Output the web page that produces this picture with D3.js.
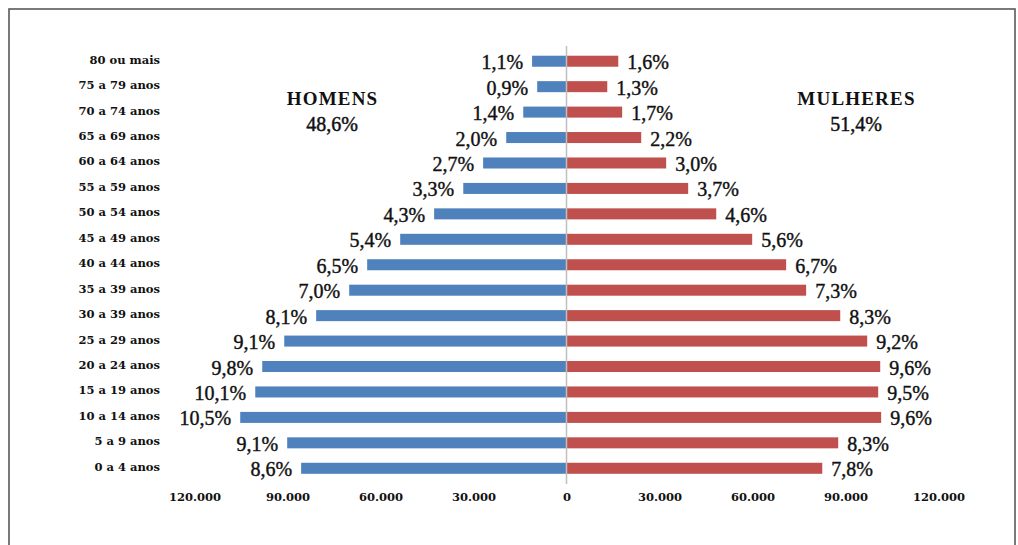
<!DOCTYPE html>
<html>
<head>
<meta charset="utf-8">
<script src="https://cdn.jsdelivr.net/npm/d3@7"></script>
<style>
  html, body { margin: 0; padding: 0; background: #fff; }
  svg { display: block; }
</style>
</head>
<body>
<svg id="chart" width="1018" height="545"></svg>
<script>
// ---- data ----
const categories = ["80 ou mais","75 a 79 anos","70 a 74 anos","65 a 69 anos","60 a 64 anos","55 a 59 anos","50 a 54 anos","45 a 49 anos","40 a 44 anos","35 a 39 anos","30 a 39 anos","25 a 29 anos","20 a 24 anos","15 a 19 anos","10 a 14 anos","5 a 9 anos","0 a 4 anos"];
const homens   = [11100, 9450, 13950, 19450, 26900, 33300, 42700, 53650, 64300, 70100, 80750, 91050, 98150, 100400, 105250, 90100, 85600];
const mulheres = [16700, 13150, 17950, 24100, 32150, 39250, 48300, 59900, 70850, 77300, 88300, 97000, 101200, 100550, 101500, 87650, 82500];
const pctHomens   = ["1,1%","0,9%","1,4%","2,0%","2,7%","3,3%","4,3%","5,4%","6,5%","7,0%","8,1%","9,1%","9,8%","10,1%","10,5%","9,1%","8,6%"];
const pctMulheres = ["1,6%","1,3%","1,7%","2,2%","3,0%","3,7%","4,6%","5,6%","6,7%","7,3%","8,3%","9,2%","9,6%","9,5%","9,6%","8,3%","7,8%"];
const tickValues = [30000, 60000, 90000, 120000];
const totals = [{label: "HOMENS", pct: "48,6%"}, {label: "MULHERES", pct: "51,4%"}];

// ---- layout ----
const SERIF = "'Liberation Serif', 'Times New Roman', serif";
const WIDE = "'DejaVu Serif', serif";
const svg = d3.select("#chart");
const cx = 566.5;
const maxV = 120000;

svg.append("rect")
  .attr("x", 9).attr("y", 9).attr("width", 1006).attr("height", 545)
  .attr("fill", "#fff").attr("stroke", "#595959").attr("stroke-width", 1.6);

const y = d3.scaleBand().domain(categories).range([48.5, 481])
  .paddingInner(0.567).paddingOuter(0.2835);
const xL = d3.scaleLinear().domain([0, maxV]).range([cx, 194.5]);
const xR = d3.scaleLinear().domain([0, maxV]).range([cx, 938.5]);

const locale = d3.formatLocale({decimal: ",", thousands: ".", grouping: [3], currency: ["", ""]});
const fmt = locale.format(",d");

// bars
svg.append("g").selectAll("rect").data(categories).join("rect")
  .attr("x", (d, i) => xL(homens[i]))
  .attr("y", d => y(d))
  .attr("width", (d, i) => cx - xL(homens[i]))
  .attr("height", y.bandwidth())
  .attr("fill", "#4f81bd");

svg.append("g").selectAll("rect").data(categories).join("rect")
  .attr("x", cx)
  .attr("y", d => y(d))
  .attr("width", (d, i) => xR(mulheres[i]) - cx)
  .attr("height", y.bandwidth())
  .attr("fill", "#c0504d");

// center axis line
svg.append("line")
  .attr("x1", cx).attr("x2", cx).attr("y1", 46).attr("y2", 484)
  .attr("stroke", "#bfbfbf").attr("stroke-width", 1.5);

function styleText(sel, family, size, weight) {
  return sel.attr("font-family", family).attr("font-size", size).attr("font-weight", weight).attr("fill", "#111");
}

// value labels
styleText(svg.append("g").selectAll("text").data(categories).join("text")
  .attr("x", (d, i) => xL(homens[i]) - 9)
  .attr("y", d => y(d) + y.bandwidth() / 2 + 1)
  .attr("text-anchor", "end")
  .attr("dominant-baseline", "central")
  .attr("stroke", "#111").attr("stroke-width", 0.4)
  .text((d, i) => pctHomens[i]), SERIF, 20, "normal");

styleText(svg.append("g").selectAll("text").data(categories).join("text")
  .attr("x", (d, i) => xR(mulheres[i]) + 9)
  .attr("y", d => y(d) + y.bandwidth() / 2 + 1)
  .attr("text-anchor", "start")
  .attr("dominant-baseline", "central")
  .attr("stroke", "#111").attr("stroke-width", 0.4)
  .text((d, i) => pctMulheres[i]), SERIF, 20, "normal");

// category labels
styleText(svg.append("g").selectAll("text").data(categories).join("text")
  .attr("x", 160)
  .attr("y", d => y(d) + y.bandwidth() / 2 - 1.5)
  .attr("text-anchor", "end")
  .attr("dominant-baseline", "central")
  .text(d => d), WIDE, 11.5, "bold");

// bottom axes
const axL = d3.axisBottom(xL).tickValues(tickValues).tickFormat(fmt).tickSize(0).tickPadding(9);
const axR = d3.axisBottom(xR).tickValues([0].concat(tickValues)).tickFormat(fmt).tickSize(0).tickPadding(9);
[axL, axR].forEach(ax => {
  const g = svg.append("g").attr("transform", "translate(0,484)").call(ax);
  g.attr("font-family", WIDE);
  g.select(".domain").remove();
  styleText(g.selectAll("text"), WIDE, 11.5, "bold");
});

// totals
const tx = [332, 856];
totals.forEach((t, i) => {
  styleText(svg.append("text").attr("x", tx[i] + 0.5).attr("y", 98)
    .attr("text-anchor", "middle").attr("dominant-baseline", "central")
    .attr("letter-spacing", "1.2px")
    .text(t.label), SERIF, 19, "bold");
  styleText(svg.append("text").attr("x", tx[i]).attr("y", 124)
    .attr("text-anchor", "middle").attr("dominant-baseline", "central")
    .attr("stroke", "#111").attr("stroke-width", 0.45)
    .text(t.pct), SERIF, 20, "normal");
});
</script>
</body>
</html>
